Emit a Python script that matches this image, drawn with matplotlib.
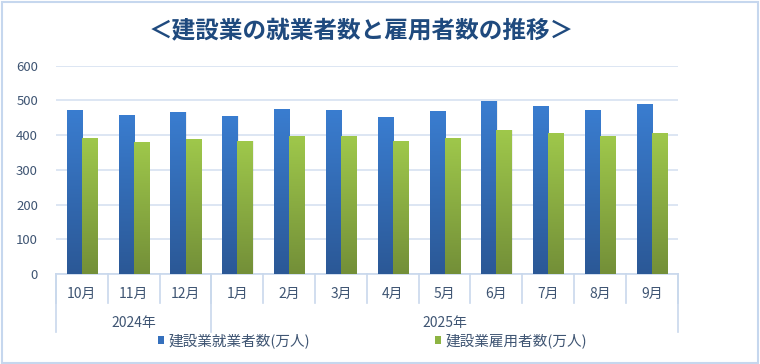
import matplotlib
matplotlib.use("Agg")
import matplotlib.pyplot as plt
import numpy as np
from matplotlib.patches import Rectangle, Patch
from matplotlib.colors import LinearSegmentedColormap

plt.rcParams['font.family'] = ['Noto Sans CJK JP', 'DejaVu Sans']

title = "＜建設業の就業者数と雇用者数の推移＞"
months = ["10月", "11月", "12月", "1月", "2月", "3月", "4月", "5月", "6月", "7月", "8月", "9月"]
years = ["2024年", "2025年"]
year_counts = [3, 9]
series_names = ["建設業就業者数(万人)", "建設業雇用者数(万人)"]
employed = [473, 458, 466, 456, 475, 473, 451, 469, 497, 484, 473, 489]
employees = [392, 381, 388, 383, 398, 397, 383, 392, 414, 407, 397, 405]
yticks = [0, 100, 200, 300, 400, 500, 600]

W, H = 760, 364
fig = plt.figure(figsize=(W / 100, H / 100), dpi=100)
fig.patch.set_facecolor("white")
# figure border
fig.add_artist(Rectangle((1.5 / W, 1.5 / H), 1 - 4 / W, 1 - 3.5 / H, transform=fig.transFigure,
                         fill=False, edgecolor="#c6d7ee", linewidth=1.5))

left, right, bottom, top = 56, 677.7, 274, 65.7
ax = fig.add_axes([left / W, 1 - bottom / H, (right - left) / W, (bottom - top) / H])
ax.set_xlim(-0.5, len(months) - 0.5)
ax.set_ylim(0, 600)
for s in ax.spines.values():
    s.set_visible(False)
ax.set_yticks(yticks)
ax.set_yticklabels([str(v) for v in yticks], color="#3f5573", fontsize=9.5)
ax.tick_params(axis="y", length=0, pad=13)
ax.set_xticks([])
ax.yaxis.grid(True, color="#d7e2f1", linewidth=1.2)
ax.set_axisbelow(True)

grid_color = "#c9d8ec"
txt_color = "#3f5573"

blue_cmap = LinearSegmentedColormap.from_list("b", ["#2b5896", "#3a7dd0"])
green_cmap = LinearSegmentedColormap.from_list("g", ["#738f38", "#9fc84b"])
grad = np.linspace(0, 1, 256).reshape(-1, 1)

x = np.arange(len(months))
bw = 0.29
b1 = ax.bar(x - bw / 2, employed, width=bw, color="none", edgecolor="none", zorder=2)
b2 = ax.bar(x + bw / 2, employees, width=bw, color="none", edgecolor="none", zorder=2)
for bars, cmap in ((b1, blue_cmap), (b2, green_cmap)):
    for r in bars:
        x0, y0 = r.get_x(), r.get_y()
        w, h = r.get_width(), r.get_height()
        # subtle shadow
        ax.add_patch(Rectangle((x0 + w * 0.08, y0), w, h, facecolor="#000000", alpha=0.06,
                               edgecolor="none", zorder=1.5))
        im = ax.imshow(grad, extent=(x0, x0 + w, y0, y0 + h), origin="lower", cmap=cmap,
                       aspect="auto", zorder=2.5)
        im.set_clip_path(r)
ax.set_xlim(-0.5, len(months) - 0.5)
ax.set_ylim(0, 600)

tr = ax.get_xaxis_transform()
ph = bottom - top
def ay(py):
    return (bottom - py) / ph

# baseline
ax.plot([-0.5, len(months) - 0.5], [0, 0], transform=tr, color=grid_color, lw=1.2, clip_on=False)
# month separators
for i in range(len(months) + 1):
    ax.plot([i - 0.5, i - 0.5], [ay(274), ay(303.3)], transform=tr, color=grid_color, lw=1.2, clip_on=False)
for i, m in enumerate(months):
    ax.text(i, ay(294), m, transform=tr, ha="center", va="center", fontsize=10, color=txt_color)
# year separators
bounds = np.concatenate([[0], np.cumsum(year_counts)])
for b in bounds:
    ax.plot([b - 0.5, b - 0.5], [ay(274), ay(331.7)], transform=tr, color=grid_color, lw=1.2, clip_on=False)
for j, yname in enumerate(years):
    c = (bounds[j] + bounds[j + 1] - 1) / 2
    ax.text(c, ay(322.7), yname, transform=tr, ha="center", va="center", fontsize=10, color=txt_color)

# title
fig.text(361 / W, 1 - 30 / H, title, ha="center", va="center", fontsize=17, fontweight="bold",
         color="#1f4a7e")

# legend
handles = [Patch(facecolor="#3570bd", edgecolor="none"), Patch(facecolor="#8db443", edgecolor="none")]
leg = fig.legend(handles, series_names, loc="center", bbox_to_anchor=(372.5 / W, 1 - 341 / H), ncol=2,
                 frameon=False, fontsize=10.5, handlelength=0.43, handleheight=0.43,
                 handletextpad=0.3, columnspacing=8.6, borderpad=0, labelcolor=txt_color)

fig.savefig("out.png", dpi=100, facecolor="white")
